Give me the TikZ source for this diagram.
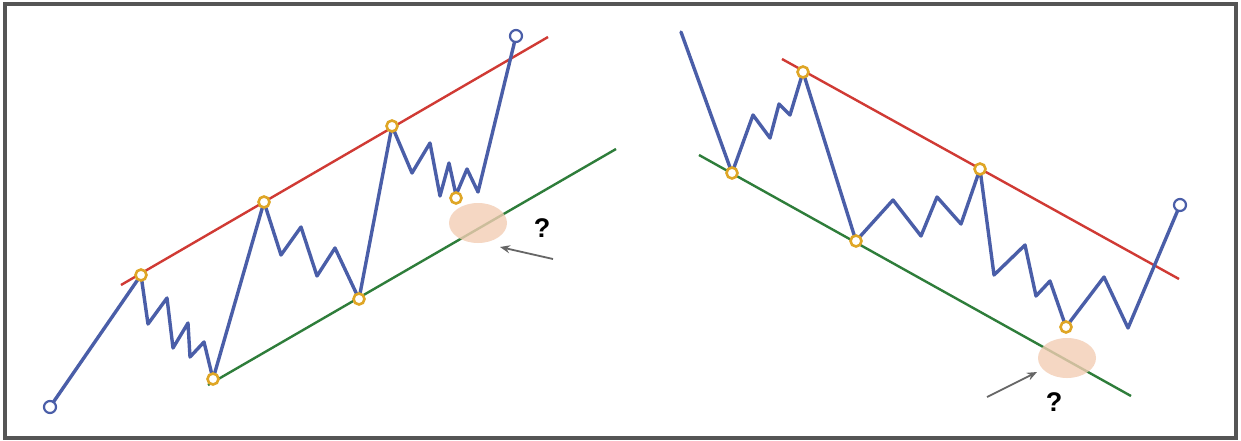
\documentclass[tikz,border=0pt]{standalone}
\usepackage{fontspec}
\setmainfont{Liberation Sans}
\usetikzlibrary{arrows.meta}
\definecolor{frameg}{HTML}{555555}
\definecolor{pblue}{HTML}{4A5EA8}
\definecolor{pred}{HTML}{D03A34}
\definecolor{pgreen}{HTML}{2E7D3A}
\definecolor{pgold}{HTML}{DFA626}
\definecolor{ppeach}{HTML}{F3CDB4}
\definecolor{parrow}{HTML}{666666}
\tikzset{
  price/.style={draw=pblue,line width=3.4pt,line join=round,line cap=round},
  resist/.style={draw=pred,line width=2.4pt},
  support/.style={draw=pgreen,line width=2.4pt},
  pivot/.style={circle,draw=pgold,fill=white,line width=2.6pt,minimum size=11pt,inner sep=0pt},
  endpt/.style={circle,draw=pblue,fill=white,line width=2.2pt,minimum size=12pt,inner sep=0pt},
  zone/.style={fill=ppeach,fill opacity=0.8},
  pointer/.style={draw=parrow,line width=1.8pt,-{Stealth[length=10pt,width=8pt]}},
  qmark/.style={font=\fontsize{27}{29}\selectfont\bfseries,text=black,inner sep=0pt}
}
\begin{document}
\begin{tikzpicture}[x=1pt,y=-1pt]
\useasboundingbox (0,0) rectangle (1241,440);
\fill[white] (0,0) rectangle (1241,440);
\draw[frameg,line width=4pt] (5,4) rectangle (1236,438);

% ---------------- left: ascending channel ----------------
\coordinate (lr1) at (121,285);
\coordinate (lr2) at (548,37);
\coordinate (lg1) at (208,385);
\coordinate (lg2) at (616,149);
\draw[resist] (lr1) -- (lr2);
\draw[support] (lg1) -- (lg2);
\fill[zone] (478,223) ellipse [x radius=29,y radius=20];

\coordinate (l0) at (50,407);
\coordinate (lA) at (141,275);
\coordinate (lB) at (213,379);
\coordinate (lC) at (264,202);
\coordinate (lD) at (359,299);
\coordinate (lE) at (392,126);
\coordinate (lF) at (456,195);
\coordinate (lZ) at (516,36);
\draw[price] (l0) -- (lA) -- (148,324) -- (167,298) -- (173,348) -- (188,323) -- (190,357) -- (204,342) -- (lB)
  -- (lC) -- (281,255) -- (301,227) -- (317,276) -- (335,248) -- (lD)
  -- (lE) -- (412,173) -- (430,143) -- (440,196) -- (449,163) -- (lF) -- (467,169) -- (478,192) -- (lZ);
\node[endpt] (n0) at (l0) {};
\node[endpt] (nZ) at (lZ) {};
\node[pivot] (nA) at (lA) {};
\node[pivot] (nB) at (lB) {};
\node[pivot] (nC) at (lC) {};
\node[pivot] (nD) at (lD) {};
\node[pivot] (nE) at (lE) {};
\node[pivot] (nF) at (456,198) {};
\node[qmark] (q1) at (542,228) {?};
\coordinate (la1) at (553,259);
\coordinate (la2) at (500,247);
\draw[pointer] (la1) -- (la2);

% ---------------- right: descending channel ----------------
\coordinate (rr1) at (782,59);
\coordinate (rr2) at (1179,279);
\coordinate (rg1) at (699,155);
\coordinate (rg2) at (1131,396);
\draw[resist] (rr1) -- (rr2);
\draw[support] (rg1) -- (rg2);
\fill[zone] (1067,358) ellipse [x radius=29,y radius=20];

\coordinate (r0) at (681,32);
\coordinate (rG) at (732,173);
\coordinate (rH) at (803,72);
\coordinate (rI) at (856,241);
\coordinate (rJ) at (980,169);
\coordinate (rK) at (1066,327);
\coordinate (rZ) at (1180,205);
\draw[price] (r0) -- (rG) -- (753,115) -- (770,138) -- (779,104) -- (790,115) -- (rH)
  -- (rI) -- (893,200) -- (921,236) -- (937,197) -- (961,224) -- (rJ)
  -- (994,275) -- (1025,245) -- (1036,296) -- (1050,281) -- (rK)
  -- (1104,277) -- (1128,328) -- (rZ);
\node[endpt] (mZ) at (rZ) {};
\node[pivot] (mG) at (rG) {};
\node[pivot] (mH) at (rH) {};
\node[pivot] (mI) at (rI) {};
\node[pivot] (mJ) at (rJ) {};
\node[pivot] (mK) at (rK) {};
\node[qmark] (q2) at (1054,402) {?};
\coordinate (ra1) at (987,397);
\coordinate (ra2) at (1037,372);
\draw[pointer] (ra1) -- (ra2);
\end{tikzpicture}
\end{document}
